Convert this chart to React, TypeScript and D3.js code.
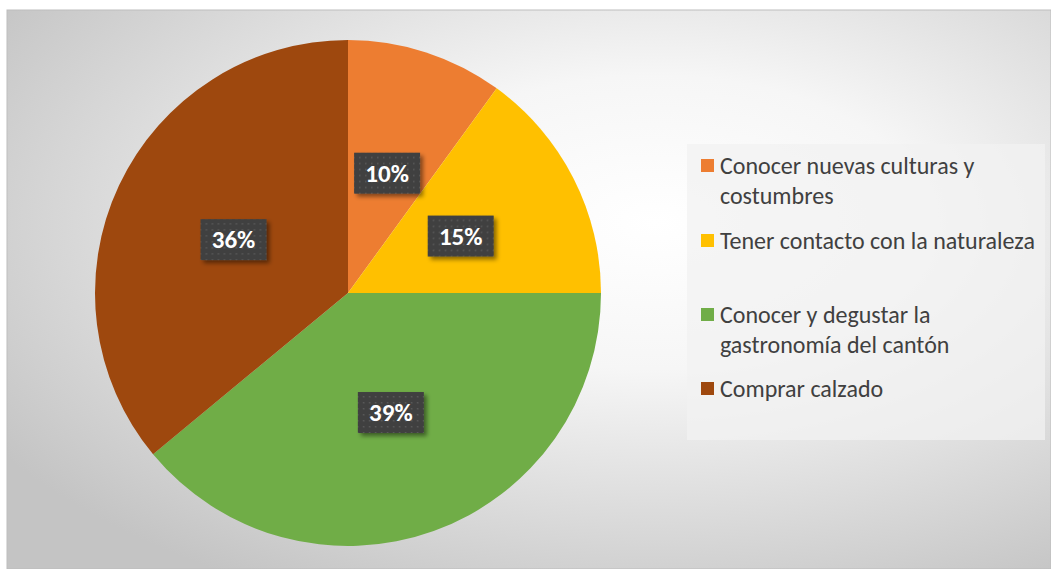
import React from "react";
import * as d3 from "d3";

const categories = [
  "Conocer nuevas culturas y costumbres",
  "Tener contacto con la naturaleza",
  "Conocer y degustar la gastronomía del cantón",
  "Comprar calzado",
];
const values = [10, 15, 39, 36];
const colors = ["#ED7D31", "#FFC000", "#70AD47", "#9E480E"];
const legendLines = [
  ["Conocer nuevas culturas y", "costumbres"],
  ["Tener contacto con la naturaleza"],
  ["Conocer y degustar la", "gastronomía del cantón"],
  ["Comprar calzado"],
];
const legendY = [166, 241, 315, 389];

export default function App() {
  const W = 1051, H = 569;
  const cx = 348, cy = 293, R = 253;
  const pie = d3.pie<number>().sort(null).value((d) => d);
  const arcs = pie(values);
  const arc = d3.arc<d3.PieArcDatum<number>>().innerRadius(0).outerRadius(R);
  const labelArc = d3.arc<d3.PieArcDatum<number>>().innerRadius(R * 0.5).outerRadius(R * 0.5);
  const total = d3.sum(values);
  const font = "Carlito, Calibri, Lato, 'Open Sans', sans-serif";
  return (
    <svg width={W} height={H} style={{ position: "absolute", left: 0, top: 0 }}>
      <defs>
        <radialGradient id="bg" cx="62%" cy="38%" r="75%">
          <stop offset="0%" stopColor="#ffffff" />
          <stop offset="35%" stopColor="#f6f6f6" />
          <stop offset="100%" stopColor="#c4c4c4" />
        </radialGradient>
        <pattern id="dots" width="6" height="6" patternUnits="userSpaceOnUse">
          <rect width="6" height="6" fill="#404040" />
          <rect x="2" y="2" width="1.5" height="1.5" fill="#5a5a5a" />
        </pattern>
        <filter id="sh" x="-30%" y="-30%" width="160%" height="160%">
          <feDropShadow dx="3" dy="3" stdDeviation="2" floodColor="#000" floodOpacity="0.45" />
        </filter>
      </defs>
      <rect x={7} y={10} width={W - 7} height={H - 10} fill="url(#bg)" stroke="#bdbdbd" strokeWidth={1} />
      <g transform={`translate(${cx},${cy})`}>
        {arcs.map((a, i) => (
          <path key={i} d={arc(a) || ""} fill={colors[i]} />
        ))}
        {arcs.map((a, i) => {
          const [x, y] = labelArc.centroid(a);
          const txt = `${Math.round((a.value / total) * 100)}%`;
          return (
            <g key={"l" + i} transform={`translate(${x},${y})`}>
              <rect x={-33} y={-20} width={66} height={41} fill="url(#dots)" filter="url(#sh)" />
              <text x={0} y={9} textAnchor="middle" fill="#fff" fontFamily={font} fontWeight="bold" fontSize={25}>
                {txt}
              </text>
            </g>
          );
        })}
      </g>
      <rect x={687} y={144} width={358} height={296} fill="#f2f2f2" opacity={0.75} />
      {legendLines.map((lines, i) => (
        <g key={"lg" + i}>
          <rect x={701} y={legendY[i] - 7} width={13} height={13} fill={colors[i]} />
          {lines.map((ln, j) => (
            <text key={j} x={720} y={legendY[i] + 8 + j * 30} fill="#404040" fontFamily={font} fontSize={24}>
              {ln}
            </text>
          ))}
        </g>
      ))}
    </svg>
  );
}
